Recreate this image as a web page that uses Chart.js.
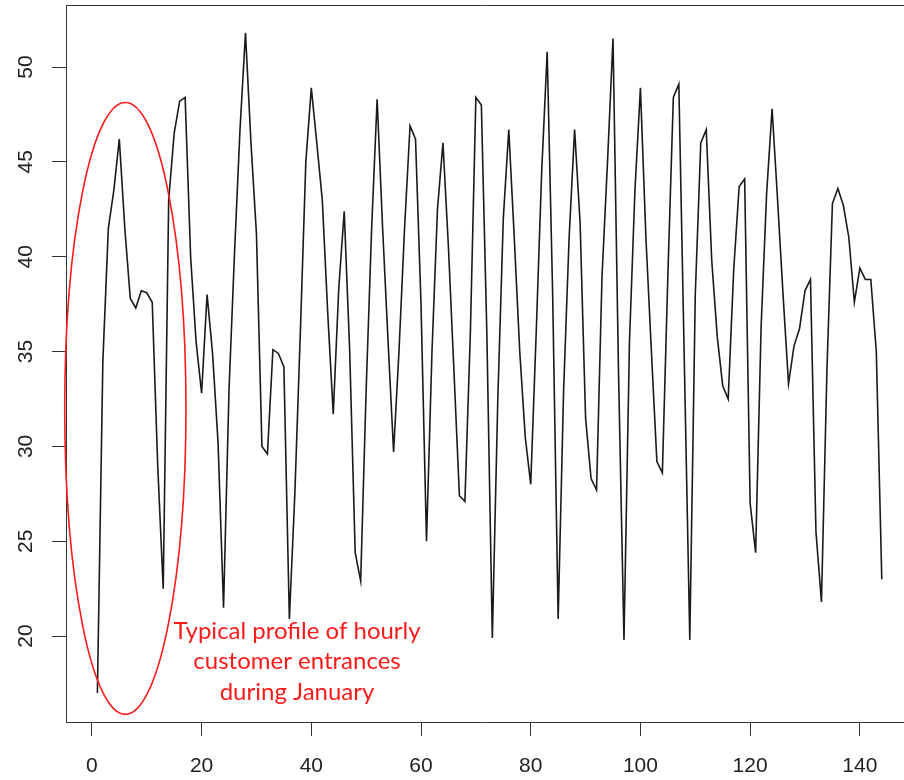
<!DOCTYPE html>
<html>
<head>
<meta charset="utf-8">
<title>Hourly customer entrances</title>
<script src="https://cdn.jsdelivr.net/npm/chart.js@4.4.0/dist/chart.umd.min.js"></script>
<style>
  html, body { margin: 0; padding: 0; background: #fff; overflow: hidden; }
  #wrap { width: 904px; height: 780px; }
</style>
</head>
<body>
<div id="wrap"><canvas id="entrancesChart" width="904" height="780"></canvas></div>
<script>
// Hourly entrances, 12 opening hours per day, 12 days
const entrances = [
  17, 34.5, 41.5, 43.5, 46.2, 41.5, 37.8, 37.3, 38.2, 38.1, 37.6, 29,
  22.5, 43, 46.5, 48.2, 48.4, 40, 35.5, 32.8, 38, 34.9, 30.2, 21.5,
  33, 40.2, 46.7, 51.8, 46, 41.2, 30, 29.6, 35.1, 34.9, 34.2, 20.9,
  27.5, 36, 45, 48.9, 46, 43, 37, 31.7, 38.3, 42.4, 35, 24.4,
  22.9, 33, 41.5, 48.3, 41.5, 35.5, 29.7, 35.1, 41.5, 46.9, 46.2, 37.5,
  25, 35, 42.5, 46, 40.5, 34, 27.4, 27.1, 36, 48.4, 48, 36,
  19.9, 32.5, 42, 46.7, 41, 35, 30.5, 28, 36, 44.5, 50.8, 38,
  20.9, 33, 41, 46.7, 41.8, 31.5, 28.3, 27.7, 39, 45, 51.5, 34,
  19.8, 35.5, 43.5, 48.9, 41, 35, 29.2, 28.6, 39, 48.4, 49.1, 34.5,
  19.8, 38, 46, 46.7, 39.8, 35.8, 33.2, 32.5, 39.3, 43.7, 44.1, 27,
  24.4, 36.3, 43.3, 47.8, 43, 38, 33.3, 35.3, 36.2, 38.2, 38.8, 25.5,
  21.8, 34, 42.8, 43.6, 42.7, 41, 37.6, 39.4, 38.8, 38.8, 35, 23
];

const xTicks = [0, 20, 40, 60, 80, 100, 120, 140];
const yTicks = [20, 25, 30, 35, 40, 45, 50];

const noteLines = ['Typical profile of hourly', 'customer entrances', 'during January'];

// series index starts at 1, like a plain R time series
const points = entrances.map((v, i) => ({ x: i + 1, y: v }));

const axisColor = '#333';
const tickFont = { family: 'Liberation Sans, Arial, sans-serif', size: 21 };

// red ellipse + note drawn in data coordinates
const notePlugin = {
  id: 'note',
  afterDatasetsDraw(chart) {
    const { ctx, scales: { x, y }, chartArea } = chart;
    ctx.save();

    // top edge of the box (left and bottom come from the axes)
    ctx.strokeStyle = axisColor;
    ctx.lineWidth = 1;
    ctx.beginPath();
    ctx.moveTo(chartArea.left, chartArea.top + 0.5);
    ctx.lineTo(chartArea.right + 10, chartArea.top + 0.5);
    ctx.stroke();

    const cx = x.getPixelForValue(6.1);
    const cy = y.getPixelForValue(32.0);
    const rx = Math.abs(x.getPixelForValue(6.1 + 11.05) - cx);
    const ry = Math.abs(y.getPixelForValue(32.0 + 16.13) - cy);
    ctx.strokeStyle = '#ff1a1a';
    ctx.lineWidth = 1.6;
    ctx.beginPath();
    ctx.ellipse(cx, cy, rx, ry, 0, 0, Math.PI * 2);
    ctx.stroke();

    ctx.fillStyle = '#ff1a1a';
    ctx.font = '24px Lato, "Open Sans", sans-serif';
    ctx.textAlign = 'center';
    ctx.textBaseline = 'middle';
    const tx = x.getPixelForValue(37.4);
    const ty = y.getPixelForValue(20.27);
    noteLines.forEach((line, i) => ctx.fillText(line, tx, ty + i * 30.5));
    ctx.restore();
  }
};

new Chart(document.getElementById('entrancesChart'), {
  type: 'line',
  data: {
    datasets: [{
      data: points,
      borderColor: '#1a1a1a',
      borderWidth: 1.6,
      pointRadius: 0,
      tension: 0,
      fill: false
    }]
  },
  options: {
    responsive: false,
    animation: false,
    layout: { padding: { top: 5, left: 0, right: 0, bottom: 0 } },
    plugins: { legend: { display: false }, tooltip: { enabled: false } },
    scales: {
      x: {
        type: 'linear',
        min: -4.72,
        max: 148.05,
        afterBuildTicks: (scale) => { scale.ticks = xTicks.map(v => ({ value: v })); },
        afterFit: (scale) => {
          scale.height = 58;
          scale.paddingLeft = 0;
          scale.paddingRight = 0;
        },
        grid: { drawOnChartArea: false, drawTicks: true, tickLength: 14, tickColor: axisColor },
        border: { display: true, color: axisColor, width: 1 },
        ticks: { font: tickFont, color: '#222', padding: 18, maxRotation: 0, autoSkip: false }
      },
      y: {
        min: 15.47,
        max: 53.27,
        afterBuildTicks: (scale) => { scale.ticks = yTicks.map(v => ({ value: v })); },
        afterFit: (scale) => {
          scale.width = 66;
          scale.paddingTop = 0;
          scale.paddingBottom = 0;
        },
        grid: { drawOnChartArea: false, drawTicks: true, tickLength: 14, tickColor: axisColor },
        border: { display: true, color: axisColor, width: 1 },
        ticks: { font: tickFont, color: '#222', padding: 14, minRotation: 90, maxRotation: 90, crossAlign: 'center', autoSkip: false }
      }
    }
  },
  plugins: [notePlugin]
});
</script>
</body>
</html>
